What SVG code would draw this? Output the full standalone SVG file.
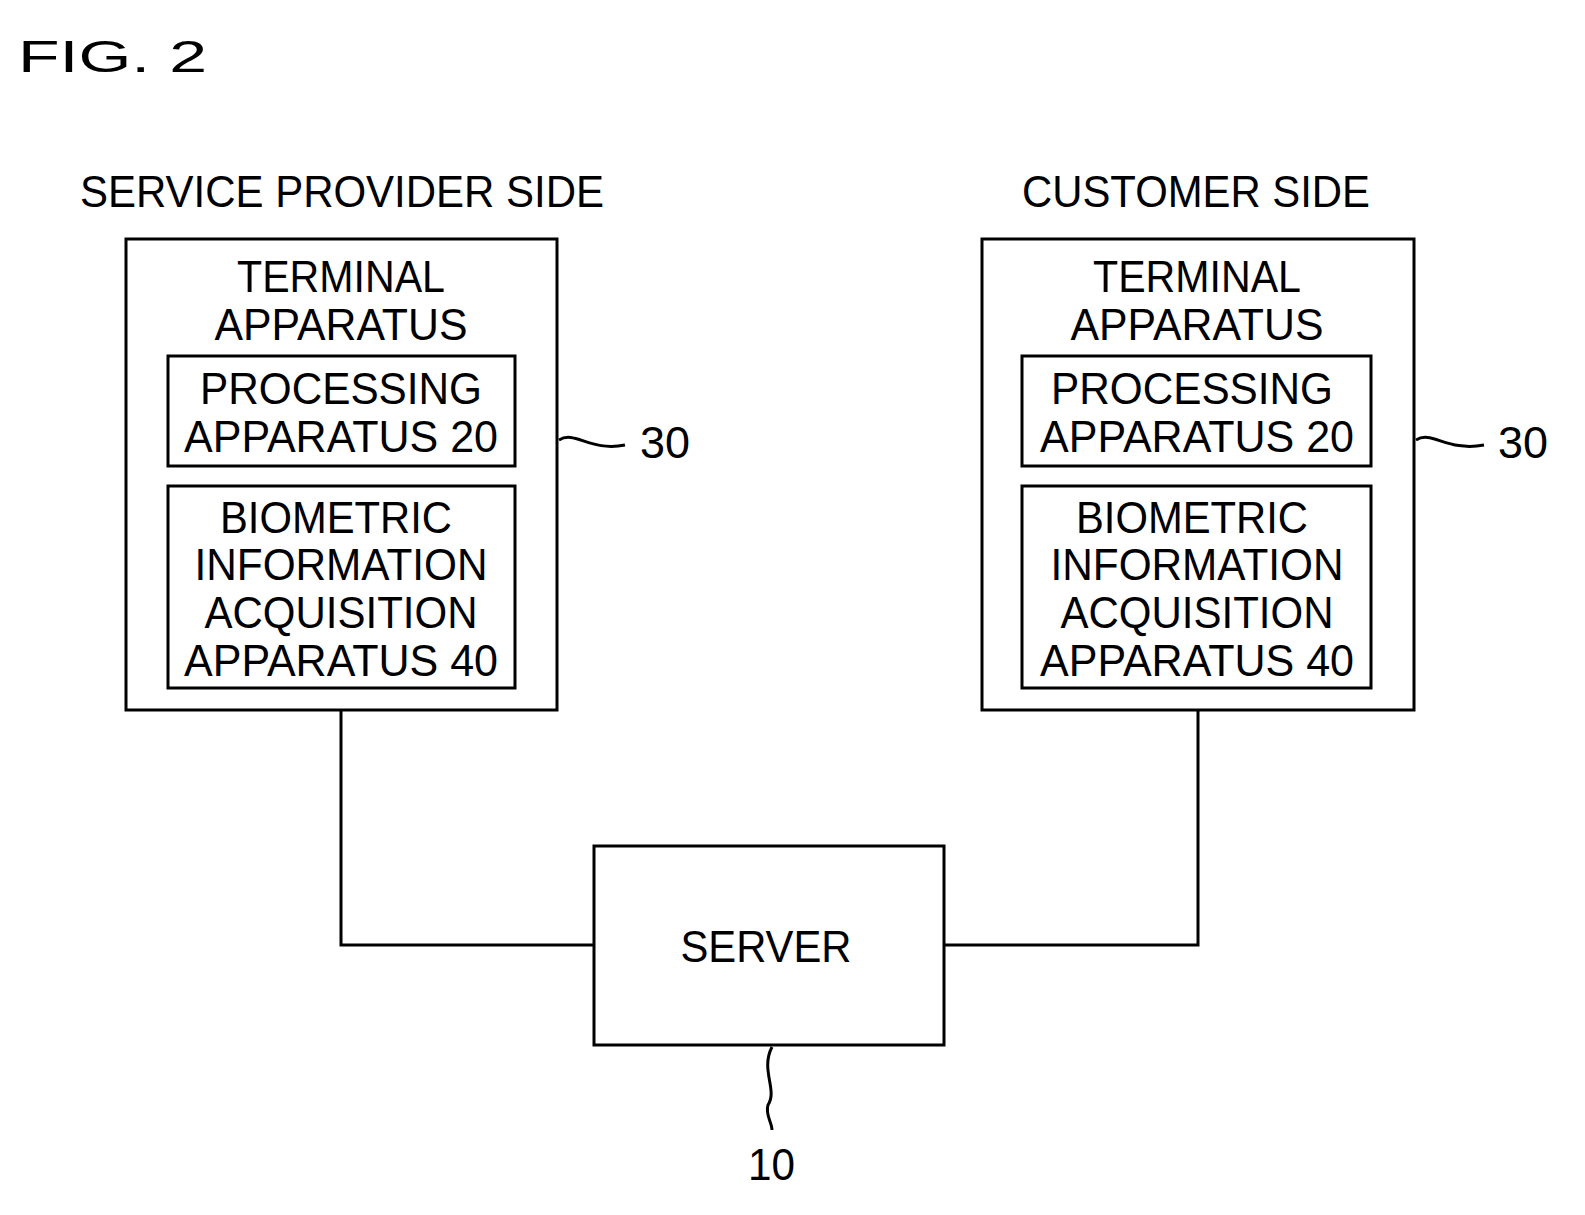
<svg xmlns="http://www.w3.org/2000/svg" width="1585" height="1215" viewBox="0 0 1585 1215">
<style>
text{font-family:"Liberation Sans",Arial,sans-serif;font-size:44px;fill:#000}
.b{fill:none;stroke:#000;stroke-width:3}
.c{text-anchor:middle}
</style>
<rect width="1585" height="1215" fill="#fff"/>
<text x="18" y="72" font-size="62" textLength="189" lengthAdjust="spacingAndGlyphs">FIG. 2</text>
<text x="80" y="207" textLength="524" lengthAdjust="spacingAndGlyphs">SERVICE PROVIDER SIDE</text>
<text x="1022" y="207" textLength="348" lengthAdjust="spacingAndGlyphs">CUSTOMER SIDE</text>
<g id="left-terminal">
<rect class="b" x="126" y="239" width="431" height="471"/>
<text class="c" x="341" y="292" textLength="208" lengthAdjust="spacingAndGlyphs">TERMINAL</text>
<text class="c" x="341" y="340" textLength="253" lengthAdjust="spacingAndGlyphs">APPARATUS</text>
<path class="b" d="M559 440 C575 430,590 452,625 445" stroke-width="2"/>
<text x="640" y="458" textLength="50" lengthAdjust="spacingAndGlyphs">30</text>
</g>
<g id="left-processing">
<rect class="b" x="168" y="356" width="347" height="110"/>
<text class="c" x="341" y="404" textLength="282" lengthAdjust="spacingAndGlyphs">PROCESSING</text>
<text class="c" x="341" y="452" textLength="314" lengthAdjust="spacingAndGlyphs">APPARATUS 20</text>
</g>
<g id="left-biometric">
<rect class="b" x="168" y="486" width="347" height="202"/>
<text class="c" x="336" y="533" textLength="232" lengthAdjust="spacingAndGlyphs">BIOMETRIC</text>
<text class="c" x="341" y="580" textLength="293" lengthAdjust="spacingAndGlyphs">INFORMATION</text>
<text class="c" x="341" y="628" textLength="273" lengthAdjust="spacingAndGlyphs">ACQUISITION</text>
<text class="c" x="341" y="676" textLength="314" lengthAdjust="spacingAndGlyphs">APPARATUS 40</text>
</g>
<g id="right-terminal">
<rect class="b" x="982" y="239" width="432" height="471"/>
<text class="c" x="1197" y="292" textLength="208" lengthAdjust="spacingAndGlyphs">TERMINAL</text>
<text class="c" x="1197" y="340" textLength="253" lengthAdjust="spacingAndGlyphs">APPARATUS</text>
<path class="b" d="M1416 440 C1432 430,1447 452,1484 445" stroke-width="2"/>
<text x="1498" y="458" textLength="50" lengthAdjust="spacingAndGlyphs">30</text>
</g>
<g id="right-processing">
<rect class="b" x="1022" y="356" width="349" height="110"/>
<text class="c" x="1192" y="404" textLength="282" lengthAdjust="spacingAndGlyphs">PROCESSING</text>
<text class="c" x="1197" y="452" textLength="314" lengthAdjust="spacingAndGlyphs">APPARATUS 20</text>
</g>
<g id="right-biometric">
<rect class="b" x="1022" y="486" width="349" height="202"/>
<text class="c" x="1192" y="533" textLength="232" lengthAdjust="spacingAndGlyphs">BIOMETRIC</text>
<text class="c" x="1197" y="580" textLength="293" lengthAdjust="spacingAndGlyphs">INFORMATION</text>
<text class="c" x="1197" y="628" textLength="273" lengthAdjust="spacingAndGlyphs">ACQUISITION</text>
<text class="c" x="1197" y="676" textLength="314" lengthAdjust="spacingAndGlyphs">APPARATUS 40</text>
</g>
<g id="server">
<rect class="b" x="594" y="846" width="350" height="199"/>
<text class="c" x="766" y="962" textLength="171" lengthAdjust="spacingAndGlyphs">SERVER</text>
<path class="b" d="M772 1047 C760 1070,778 1090,768 1105 C765 1115,772 1122,772 1130" stroke-width="2"/>
<text x="748" y="1180" textLength="47" lengthAdjust="spacingAndGlyphs">10</text>
</g>
<g id="connectors">
<path class="b" d="M341 710 V945 H594"/>
<path class="b" d="M1198 710 V945 H944"/>
</g>
</svg>
